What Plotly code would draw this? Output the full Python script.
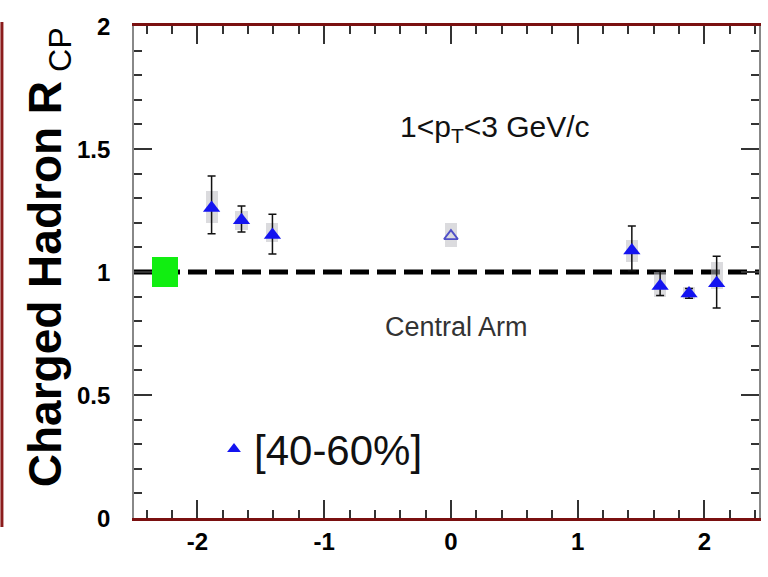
import plotly.graph_objects as go

# ---- data ----
eta = [-1.888, -1.652, -1.408, 1.427, 1.65, 1.878, 2.096]
rcp = [1.26, 1.21, 1.15, 1.087, 0.943, 0.913, 0.954]
err_plus = [0.13, 0.058, 0.085, 0.10, 0.062, 0.02, 0.11]
err_minus = [0.105, 0.047, 0.077, 0.082, 0.039, 0.02, 0.10]
sys_low = [1.20, 1.17, 1.12, 1.04, 0.90, 0.89, 0.93]
sys_high = [1.33, 1.25, 1.20, 1.13, 1.00, 0.94, 1.04]

central_eta = [0.0]
central_rcp = [1.146]
central_sys_low = [1.10]
central_sys_high = [1.20]

norm_eta = [-2.256]
norm_val = [1.0]
norm_err = [0.06]

ref_level = 1.0

x_tickvals = [-2, -1, 0, 1, 2]
x_ticktext = ["-2", "-1", "0", "1", "2"]
y_tickvals = [0, 0.5, 1, 1.5, 2]
y_ticktext = ["0", "0.5", "1", "1.5", "2"]
y_range = [0, 2]

FONT = "Liberation Sans, Arial, sans-serif"

fig = go.Figure()

# systematic boxes
all_eta = eta + central_eta
all_lo = sys_low + central_sys_low
all_hi = sys_high + central_sys_high
fig.add_trace(go.Bar(
    x=all_eta, base=all_lo, y=[h - l for h, l in zip(all_hi, all_lo)],
    width=0.095, marker=dict(color="rgba(190,190,195,0.55)", line=dict(width=0)),
    showlegend=False, hoverinfo="skip"))

# normalization box
fig.add_trace(go.Bar(
    x=norm_eta, base=[v - e for v, e in zip(norm_val, norm_err)],
    y=[2 * e for e in norm_err], width=0.205,
    marker=dict(color="#11ee11", line=dict(width=0)),
    showlegend=False, hoverinfo="skip"))

# forward / backward points
fig.add_trace(go.Scatter(
    x=eta, y=rcp, mode="markers", name="[40-60%]",
    marker=dict(symbol="triangle-up", size=15, color="#1414f0", line=dict(width=0)),
    error_y=dict(type="data", symmetric=False, array=err_plus, arrayminus=err_minus,
                 color="#111111", thickness=1.5, width=4),
    showlegend=True))

# central arm point
fig.add_trace(go.Scatter(
    x=central_eta, y=central_rcp, mode="markers",
    marker=dict(symbol="triangle-up-open", size=12, color="#5050c8", line=dict(width=1.8)),
    showlegend=False))

# reference line at 1
fig.add_shape(type="line", xref="paper", x0=0, x1=1, yref="y", y0=ref_level, y1=ref_level,
              line=dict(color="black", width=5, dash="19px,8px"), layer="below")

# left red border strip
fig.add_shape(type="line", xref="paper", yref="paper",
              x0=-132.5 / 627, x1=-132.5 / 627, y0=-9 / 492, y1=1 + 4 / 492,
              line=dict(color="#8b1c1c", width=3))

fig.add_annotation(x=0.35, y=1.585, xref="x", yref="y", showarrow=False,
                   text="1&lt;p<sub>T</sub>&lt;3 GeV/c",
                   font=dict(family=FONT, size=30, color="#111111"))
fig.add_annotation(x=0.043, y=0.776, xref="x", yref="y", showarrow=False,
                   text="Central Arm",
                   font=dict(family=FONT, size=27, color="#333333"))

# y-axis title
fig.add_annotation(x=(48 - 134) / 627, y=(518 - 257) / 492, xref="paper", yref="paper",
                   showarrow=False, textangle=-90, xanchor="center", yanchor="middle",
                   text="<b>Charged Hadron R</b><sub> CP</sub>",
                   font=dict(family=FONT, size=46, color="black"))

TICKFONT = dict(family=FONT, size=24, color="black", weight="bold")

# y tick labels placed on the y scale, set further from the axis than plotly's default
for v, t in zip(y_tickvals, y_ticktext):
    fig.add_annotation(x=0, xref="paper", y=v, yref="y", text=f"<b>{t}</b>",
                       showarrow=False, xanchor="right", yanchor="middle", xshift=-22,
                       font=dict(family=FONT, size=24, color="black"))

fig.update_layout(
    width=768, height=577,
    margin=dict(l=134, r=7, t=26, b=59),
    paper_bgcolor="white", plot_bgcolor="white",
    barmode="overlay", bargap=0,
    font=dict(family=FONT),
    legend=dict(x=0.128, y=0.14, xanchor="left", yanchor="middle",
                bgcolor="rgba(0,0,0,0)", font=dict(family=FONT, size=42, color="#111111"),
                itemsizing="constant"),
    xaxis=dict(range=[-2.5, 2.43], tickvals=x_tickvals, ticktext=x_ticktext,
               showgrid=False, zeroline=False, ticks="inside", mirror="ticks",
               tickcolor="#333333", tickwidth=1.5, ticklen=18, tickfont=TICKFONT,
               showline=True, linecolor="#7a1010", linewidth=3,
               minor=dict(dtick=0.2, ticks="inside", ticklen=8, tickcolor="#333333", tickwidth=1.5)),
    yaxis=dict(range=y_range, tickvals=y_tickvals, showticklabels=False,
               showgrid=False, zeroline=False, ticks="inside", mirror="ticks",
               tickcolor="#333333", tickwidth=1.5, ticklen=18,
               showline=True, linecolor="#888888", linewidth=2,
               minor=dict(dtick=0.1, ticks="inside", ticklen=8, tickcolor="#333333", tickwidth=1.5)),
)

fig.write_html("out.html")
